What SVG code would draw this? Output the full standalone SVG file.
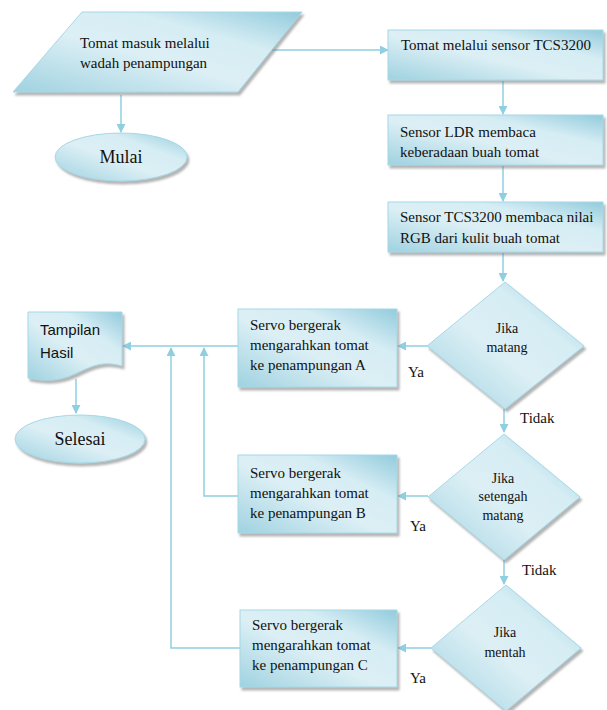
<svg xmlns="http://www.w3.org/2000/svg" width="607" height="710" viewBox="0 0 607 710">
<defs>
<linearGradient id="g" x1="0" y1="1" x2="1" y2="0">
<stop offset="0" stop-color="#9fd2e0"/>
<stop offset="0.45" stop-color="#dceff5"/>
<stop offset="0.7" stop-color="#d6edf4"/>
<stop offset="1" stop-color="#92cbdc"/>
</linearGradient>
<filter id="sh" x="-10%" y="-10%" width="125%" height="130%">
<feDropShadow dx="2" dy="3" stdDeviation="1" flood-color="#777" flood-opacity="0.55"/>
</filter>
<marker id="ah" viewBox="0 0 10 10" refX="9" refY="5" markerWidth="9" markerHeight="9" markerUnits="userSpaceOnUse" orient="auto">
<path d="M0,0 L10,5 L0,10 Z" fill="#8fcfe0"/>
</marker>
<style>
.shape{fill:url(#g);stroke:#a6d8e6;stroke-width:1;filter:url(#sh)}
.t{font-family:"Liberation Serif","Times New Roman",serif;font-size:15px;fill:#111}
.td{font-family:"Liberation Serif","Times New Roman",serif;font-size:14px;fill:#111;text-anchor:middle}
.tb{font-family:"Liberation Serif","Times New Roman",serif;font-size:18px;fill:#111;text-anchor:middle}
.ts{font-family:"Liberation Sans",Arial,sans-serif;font-size:15px;fill:#111}
.c{fill:none;stroke:#8fcfe0;stroke-width:1.5}
.ca{fill:none;stroke:#8fcfe0;stroke-width:1.5;marker-end:url(#ah)}
</style>
</defs>

<g id="connectors">
<path class="ca" d="M272,50 H388"/>
<path class="ca" d="M121,95 V132"/>
<path class="ca" d="M503,81 V114"/>
<path class="ca" d="M503,166 V201"/>
<path class="ca" d="M503,253 V281"/>
<path class="ca" d="M427,346 H398"/>
<path class="ca" d="M504,409 V432"/>
<path class="ca" d="M428,496 H398"/>
<path class="ca" d="M504,560 V584"/>
<path class="ca" d="M431,648 H398"/>
<path class="ca" d="M238,346 H123"/>
<path class="ca" d="M238,496 H204 V348"/>
<path class="ca" d="M240,648 H171 V348"/>
<path class="ca" d="M76,379 V413"/>
<text class="t" x="408" y="377">Ya</text>
<text class="t" x="410" y="531">Ya</text>
<text class="t" x="410" y="683">Ya</text>
<text class="t" x="520" y="423">Tidak</text>
<text class="t" x="522" y="575">Tidak</text>
</g>

<g id="input">
<polygon class="shape" points="82,12 302,12 238,92 13,92"/>
<text class="t" x="80" y="48">Tomat masuk melalui</text>
<text class="t" x="80" y="68">wadah penampungan</text>
</g>

<g id="mulai">
<ellipse class="shape" cx="121" cy="157" rx="66" ry="24"/>
<text class="tb" x="121" y="163">Mulai</text>
</g>

<g id="box1">
<rect class="shape" x="388" y="30" width="215" height="50"/>
<text class="t" x="401" y="50">Tomat melalui  sensor TCS3200</text>
</g>

<g id="box2">
<rect class="shape" x="388" y="115" width="215" height="50"/>
<text class="t" x="400" y="137">Sensor LDR membaca</text>
<text class="t" x="400" y="157">keberadaan buah tomat</text>
</g>

<g id="box3">
<rect class="shape" x="388" y="202" width="215" height="50"/>
<text class="t" x="400" y="222">Sensor TCS3200 membaca nilai</text>
<text class="t" x="400" y="243">RGB dari kulit buah tomat</text>
</g>

<g id="d1">
<polygon class="shape" points="505,282 584,346 505,409 427,346"/>
<text class="td" x="507" y="333">Jika</text>
<text class="td" x="507" y="352">matang</text>
</g>

<g id="d2">
<polygon class="shape" points="504,434 580,497 504,560 428,497"/>
<text class="td" x="503" y="483">Jika</text>
<text class="td" x="503" y="501">setengah</text>
<text class="td" x="503" y="520">matang</text>
</g>

<g id="d3">
<polygon class="shape" points="506,585 581,648 506,711 431,648"/>
<text class="td" x="505" y="637">Jika</text>
<text class="td" x="505" y="657">mentah</text>
</g>

<g id="boxA">
<rect class="shape" x="238" y="309" width="159" height="78"/>
<text class="t" x="250" y="330">Servo bergerak</text>
<text class="t" x="250" y="350">mengarahkan tomat</text>
<text class="t" x="250" y="370">ke penampungan A</text>
</g>

<g id="boxB">
<rect class="shape" x="238" y="455" width="159" height="78"/>
<text class="t" x="250" y="478">Servo bergerak</text>
<text class="t" x="250" y="498">mengarahkan tomat</text>
<text class="t" x="250" y="518">ke penampungan B</text>
</g>

<g id="boxC">
<rect class="shape" x="240" y="610" width="157" height="77"/>
<text class="t" x="252" y="630">Servo bergerak</text>
<text class="t" x="252" y="650">mengarahkan tomat</text>
<text class="t" x="252" y="670">ke penampungan C</text>
</g>

<g id="tampilan">
<path class="shape" d="M28,312 H122 V366 C102,360 90,367 75,374 C58,382 42,381 28,378 Z"/>
<text class="ts" x="40" y="335">Tampilan</text>
<text class="ts" x="40" y="358">Hasil</text>
</g>

<g id="selesai">
<ellipse class="shape" cx="80" cy="439" rx="65" ry="24"/>
<text class="tb" x="80" y="445">Selesai</text>
</g>
</svg>
